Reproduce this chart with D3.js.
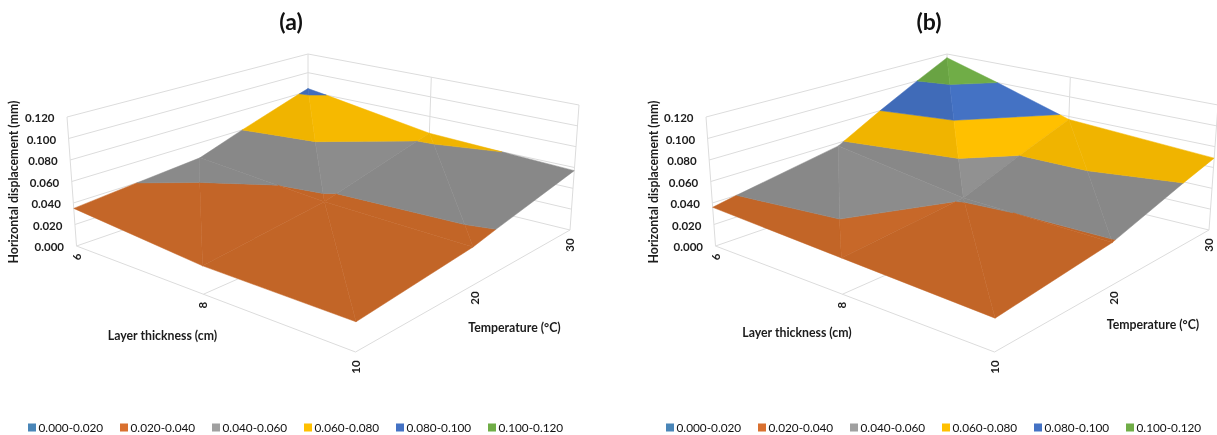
<!DOCTYPE html>
<html>
<head>
    <meta charset="utf-8">
    <title>Horizontal displacement surfaces</title>
    <script src="https://d3js.org/d3.v7.min.js"></script>
    <style>
        html, body { margin: 0; padding: 0; background: #fff; }
        svg { display: block; filter: blur(0.45px); }
        text { font-family: Lato, "Open Sans", sans-serif; font-weight: 700; fill: #1c1c1c; }
        .tick-label { font-size: 11.5px; }
        .axis-label { font-size: 12.3px; }
        .legend-label { font-size: 11.8px; font-weight: 400; fill: #111; }
        .panel-title { font-size: 23px; fill: #111; }
    </style>
</head>
<body>
    <svg id="chart"></svg>

    <script>
        // data
        const thickness = [6, 8, 10];
        const temperature = [10, 20, 30];
        const zTicks = [0, 0.02, 0.04, 0.06, 0.08, 0.1, 0.12];

        // rows = thickness, columns = temperature
        const surfaceA = [
            [0.035, 0.045, 0.083],
            [0.025, 0.037, 0.063],
            [0.025, 0.035, 0.057]
        ];
        const surfaceB = [
            [0.036, 0.057, 0.116],
            [0.032, 0.0405, 0.077],
            [0.028, 0.039, 0.069]
        ];

        const bandLabels = ["0.000-0.020", "0.020-0.040", "0.040-0.060", "0.060-0.080", "0.080-0.100", "0.100-0.120"];
        const bandEdges = [0, 0.02, 0.04, 0.06, 0.08, 0.1, 0.12];
        const bandColors = ["#4f86b8", "#ce6b2a", "#919191", "#ffc000", "#4472c4", "#70ad47"];
        const legendColors = ["#4a86b8", "#d9702f", "#a0a0a0", "#ffc000", "#4472c4", "#70ad47"];

        const width = 1217;
        const height = 435;

        const svg = d3.select("#chart")
            .attr("width", width)
            .attr("height", height);

        // perspective box corners on screen, floor and top, for panel (a)
        const box = {
            floor: { L: [76.5, 246], F: [355.5, 352], R: [570, 230], B: [308, 166] },
            top: { L: [67, 117], F: [358, 207], R: [579, 105], B: [308, 54] }
        };

        // the midpoints are not at 0.5 because of the perspective
        const uScale = d3.scaleLinear().domain(thickness).range([0, 0.455, 1]);
        const vScale = d3.scaleLinear().domain(temperature).range([0, 0.54, 1]);
        const wScale = d3.scaleLinear().domain([0, 0.12]).range([0, 1]);
        const shadeScale = d3.scaleLinear().domain([0.05, 0.5]).range([0.94, 1]).clamp(true);

        function mix(a, b, t) {
            return [a[0] + (b[0] - a[0]) * t, a[1] + (b[1] - a[1]) * t];
        }

        function project(t, temp, z) {
            const u = uScale(t), v = vScale(temp), w = wScale(z);
            const onPlane = c => mix(mix(c.L, c.F, u), mix(c.B, c.R, u), v);
            return mix(onPlane(box.floor), onPlane(box.top), w);
        }

        // clip a triangle to lo <= z <= hi
        function clipBand(poly, lo, hi) {
            function clip(pts, keep, level) {
                const out = [];
                pts.forEach((p, i) => {
                    const q = pts[(i + 1) % pts.length];
                    if (keep(p[2])) out.push(p);
                    if (keep(p[2]) !== keep(q[2])) {
                        const f = (level - p[2]) / (q[2] - p[2]);
                        out.push([p[0] + (q[0] - p[0]) * f, p[1] + (q[1] - p[1]) * f, level]);
                    }
                });
                return out;
            }
            return clip(clip(poly, z => z >= lo, lo), z => z <= hi, hi);
        }

        // two triangles per cell, same diagonals as the picture
        function surfaceTriangles(grid) {
            const pt = (i, j) => [thickness[i], temperature[j], grid[i][j]];
            return [
                [pt(0, 1), pt(0, 2), pt(1, 1)],
                [pt(0, 2), pt(1, 1), pt(1, 2)],
                [pt(0, 0), pt(0, 1), pt(1, 0)],
                [pt(0, 1), pt(1, 0), pt(1, 1)],
                [pt(1, 1), pt(1, 2), pt(2, 1)],
                [pt(1, 2), pt(2, 1), pt(2, 2)],
                [pt(1, 0), pt(1, 1), pt(2, 0)],
                [pt(1, 1), pt(2, 0), pt(2, 1)]
            ];
        }

        // faces tilted toward the thick side catch the light
        function triangleShade(tri) {
            const [a, b, c] = tri.map(p => [uScale(p[0]), vScale(p[1]), wScale(p[2])]);
            const e1 = [b[0] - a[0], b[1] - a[1], b[2] - a[2]];
            const e2 = [c[0] - a[0], c[1] - a[1], c[2] - a[2]];
            const det = e1[0] * e2[1] - e1[1] * e2[0];
            const dzdu = (e1[2] * e2[1] - e1[1] * e2[2]) / det;
            const dzdv = (e1[0] * e2[2] - e1[2] * e2[0]) / det;
            return shadeScale(-dzdu - 0.3 * dzdv);
        }

        const polyLine = d3.line().curve(d3.curveLinearClosed);

        function drawPanel(grid, title, dx, layout) {
            const g = svg.append("g").attr("transform", `translate(${dx},0)`);
            const tMin = temperature[0], tMax = temperature[2];
            const hMin = thickness[0], hMax = thickness[2];
            const zMax = zTicks[zTicks.length - 1];

            const segment = (a, b) => g.append("line")
                .attr("x1", a[0]).attr("y1", a[1])
                .attr("x2", b[0]).attr("y2", b[1])
                .attr("stroke", "#dcdcdc")
                .attr("stroke-width", 1);

            // wall gridlines
            zTicks.forEach(z => {
                segment(project(hMin, tMin, z), project(hMin, tMax, z));
                segment(project(hMin, tMax, z), project(hMax, tMax, z));
            });
            segment(project(hMin, tMin, 0), project(hMin, tMin, zMax));
            segment(project(hMin, tMax, 0), project(hMin, tMax, zMax));
            segment(project(hMax, tMax, 0), project(hMax, tMax, zMax));
            segment(project(thickness[1], tMax, 0), project(thickness[1], tMax, zMax));

            // floor
            segment(project(hMin, tMin, 0), project(hMax, tMin, 0));
            segment(project(hMax, tMin, 0), project(hMax, tMax, 0));
            segment(project(thickness[1], tMin, 0), project(thickness[1], tMax, 0));

            // surface bands
            surfaceTriangles(grid).forEach(tri => {
                const shade = triangleShade(tri);
                bandColors.forEach((color, i) => {
                    const poly = clipBand(tri, bandEdges[i], bandEdges[i + 1]);
                    if (poly.length < 3) return;
                    const c = d3.rgb(color);
                    const fill = d3.rgb(c.r * shade, c.g * shade, c.b * shade).formatHex();
                    g.append("path")
                        .attr("d", polyLine(poly.map(p => project(p[0], p[1], p[2]))))
                        .attr("fill", fill)
                        .attr("stroke", fill)
                        .attr("stroke-width", 0.5);
                });
            });

            // value axis labels
            zTicks.forEach(z => {
                const p = project(hMin, tMin, z);
                g.append("text")
                    .attr("class", "tick-label")
                    .attr("x", p[0] - 12.5)
                    .attr("y", p[1] + 1)
                    .attr("dy", "0.35em")
                    .attr("text-anchor", "end")
                    .text(d3.format(".3f")(z));
            });

            // rotated category labels
            const rotated = (p, label) => g.append("text")
                .attr("class", "tick-label")
                .attr("transform", `translate(${p[0]},${p[1]}) rotate(-90)`)
                .attr("dy", "0.35em")
                .attr("text-anchor", "middle")
                .text(label);
            thickness.forEach(t => {
                const p = project(t, tMin, 0);
                rotated([p[0], p[1] + (t === 10 ? 15 : 11)], t);
            });
            temperature.slice(1).forEach(t => {
                const p = project(hMax, t, 0);
                rotated([p[0] + (t === 20 ? 4 : 0), p[1] + (t === 20 ? 12 : 15)], t);
            });

            // axis titles
            g.append("text")
                .attr("class", "axis-label")
                .attr("transform", `translate(${layout.zTitleX},182) rotate(-90)`)
                .attr("dy", "0.35em")
                .attr("text-anchor", "middle")
                .text("Horizontal displacement (mm)");
            g.append("text")
                .attr("class", "axis-label")
                .attr("x", layout.thickX)
                .attr("y", layout.thickY)
                .attr("dy", "0.35em")
                .attr("text-anchor", "middle")
                .text("Layer thickness (cm)");
            g.append("text")
                .attr("class", "axis-label")
                .attr("x", layout.tempX)
                .attr("y", layout.tempY)
                .attr("dy", "0.35em")
                .attr("text-anchor", "middle")
                .text("Temperature (°C)");

            g.append("text")
                .attr("class", "panel-title")
                .attr("x", layout.titleX)
                .attr("y", 30)
                .attr("text-anchor", "middle")
                .text(title);

            // legend
            const legend = g.append("g").attr("transform", `translate(${layout.legendX},423.5)`);
            bandLabels.forEach((label, i) => {
                legend.append("rect")
                    .attr("x", i * 92)
                    .attr("width", 8)
                    .attr("height", 8)
                    .attr("fill", legendColors[i]);
                legend.append("text")
                    .attr("class", "legend-label")
                    .attr("x", i * 92 + 10.5)
                    .attr("y", 4)
                    .attr("dy", "0.35em")
                    .text(label);
            });
        }

        drawPanel(surfaceA, "(a)", 0, { zTitleX: 13.5, thickX: 162.5, thickY: 336, tempX: 514.5, tempY: 328, titleX: 291, legendX: 28 });
        drawPanel(surfaceB, "(b)", 639, { zTitleX: 14.5, thickX: 158, thickY: 333, tempX: 514, tempY: 325, titleX: 290, legendX: 27 });
    </script>
</body>
</html>
